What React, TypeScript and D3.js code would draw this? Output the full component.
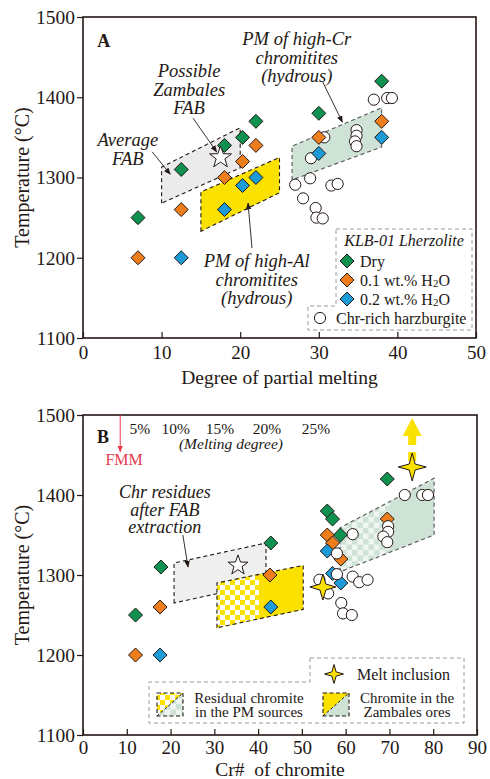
import React, { useEffect, useRef } from "react";
import * as d3 from "d3";

type Pt = [number, number];

// ---- Panel A: degree of partial melting (%) vs temperature (°C)
const dryA: Pt[] = [[7, 1250], [12.5, 1310], [18, 1340], [20.3, 1350], [22, 1370], [30, 1380], [38, 1420]];
const wet01A: Pt[] = [[7, 1200], [12.5, 1260], [18, 1300], [20.3, 1320], [22, 1340], [30, 1350], [38, 1370]];
const wet02A: Pt[] = [[12.5, 1200], [18, 1260], [20.3, 1290], [22, 1300], [30, 1330], [38, 1350]];
const harzA: Pt[] = [
  [37, 1397], [38.7, 1399], [39.3, 1399], [30.7, 1350], [34.8, 1359], [34.8, 1352], [34.6, 1345],
  [34.8, 1339], [29, 1324], [28.9, 1299], [27, 1291], [31.6, 1290], [32.4, 1292], [28, 1274],
  [29.6, 1262], [29.7, 1250], [30.5, 1249],
];
const fabStarA: Pt = [17.5, 1325];
const grayA: Pt[] = [[10, 1268], [10, 1313], [20, 1362], [20, 1312]];
const yellowA: Pt[] = [[15, 1233], [15, 1282], [25, 1325], [25, 1281]];
const greenA: Pt[] = [[26.6, 1297], [26.6, 1339], [38, 1387], [38, 1338]];

// ---- Panel B: Cr# of chromite vs temperature (°C)
const dryB: Pt[] = [[12, 1250], [17.8, 1310], [42.9, 1340], [69.5, 1420], [55.8, 1380], [57, 1370], [58.8, 1350]];
const wet01B: Pt[] = [[12, 1200], [17.6, 1260], [42.7, 1300], [69.5, 1370], [55.8, 1350], [57, 1340], [58.9, 1320]];
const wet02B: Pt[] = [[17.6, 1200], [42.9, 1260], [55.8, 1330], [57, 1302], [58.9, 1290]];
const harzB: Pt[] = [
  [73.5, 1400], [77.5, 1400], [78.8, 1400], [61.6, 1351], [69.7, 1361], [69.7, 1354], [68.6, 1348],
  [69.5, 1341], [58, 1327], [58, 1301], [54, 1294], [61.6, 1298], [63.1, 1291], [65, 1294],
  [56, 1277], [59, 1265], [59.4, 1252], [61.4, 1250],
];
const fabStarB: Pt = [35.4, 1312];
const meltInclB: Pt[] = [[75.2, 1435], [54.8, 1285]];
const grayB: Pt[] = [[20.8, 1265], [20.8, 1315], [41.8, 1340], [41.8, 1290]];
const yellowB: Pt[] = [[30.6, 1234], [30.6, 1290], [50.3, 1312], [50.3, 1257]];
const yellowSplitB = 40.2;
const greenB: Pt[] = [[58.7, 1304], [58.7, 1359], [80.2, 1421], [80.2, 1350]];
const greenSplitB = 70;
const meltPct = ["5%", "10%", "15%", "20%", "25%"];
const meltCr = [13, 21.2, 31.3, 42, 53.2];
const fmmCr = 8.5;

const tempTicks = [1100, 1200, 1300, 1400, 1500];
const meltTicks = [0, 10, 20, 30, 40, 50];
const crTicks = [0, 10, 20, 30, 40, 50, 60, 70, 80, 90];

const ink = "#231815";
const font = "'Liberation Serif', 'Times New Roman', serif";
const cGreen = "#0f9150";
const cOrange = "#ee7d1c";
const cBlue = "#1c9bd7";
const cYellow = "#fbe100";
const cGrayFill = "#ebebeb";
const cGreenFill = "#cfe2d6";

const diamond = "M0,-7L7,0L0,7L-7,0Z";

function starPath(n: number, outer: number, inner: number) {
  const pts = d3.range(n * 2).map(i => {
    const a = (Math.PI * i) / n - Math.PI / 2;
    const r = i % 2 === 0 ? outer : inner;
    return [r * Math.cos(a), r * Math.sin(a)];
  });
  return "M" + pts.map(p => p[0].toFixed(2) + "," + p[1].toFixed(2)).join("L") + "Z";
}

function App() {
  const ref = useRef<SVGSVGElement>(null);

  useEffect(() => {
    const svg = d3.select(ref.current);
    svg.selectAll("*").remove();

    const defs = svg.append("defs");
    const mk = defs.append("marker").attr("id", "arr").attr("viewBox", "0 0 10 10")
      .attr("refX", 9).attr("refY", 5).attr("markerWidth", 7).attr("markerHeight", 7)
      .attr("orient", "auto").attr("markerUnits", "userSpaceOnUse");
    mk.append("path").attr("d", "M0,1L10,5L0,9Z").attr("fill", ink);
    const mkR = defs.append("marker").attr("id", "arrR").attr("viewBox", "0 0 10 10")
      .attr("refX", 9).attr("refY", 5).attr("markerWidth", 7).attr("markerHeight", 7)
      .attr("orient", "auto").attr("markerUnits", "userSpaceOnUse");
    mkR.append("path").attr("d", "M0,1L10,5L0,9Z").attr("fill", "#e83a4e");

    const py = defs.append("pattern").attr("id", "chkY").attr("width", 10).attr("height", 10)
      .attr("patternUnits", "userSpaceOnUse");
    py.append("rect").attr("width", 10).attr("height", 10).attr("fill", "#fff");
    py.append("rect").attr("width", 5).attr("height", 5).attr("fill", cYellow);
    py.append("rect").attr("x", 5).attr("y", 5).attr("width", 5).attr("height", 5).attr("fill", cYellow);
    const pg = defs.append("pattern").attr("id", "chkG").attr("width", 11).attr("height", 11)
      .attr("patternUnits", "userSpaceOnUse");
    pg.append("rect").attr("width", 11).attr("height", 11).attr("fill", "#eff6f1");
    pg.append("rect").attr("width", 5.5).attr("height", 5.5).attr("fill", cGreenFill);
    pg.append("rect").attr("x", 5.5).attr("y", 5.5).attr("width", 5.5).attr("height", 5.5).attr("fill", cGreenFill);

    const g = svg.append("g").attr("font-family", font).attr("fill", ink);

    // multi-line text helper
    const lines = (parent: any, x: number, y: number, arr: string[], size: number, opts: any = {}) => {
      const t = parent.append("text").attr("x", x).attr("y", y).attr("font-size", size)
        .attr("text-anchor", opts.anchor || "middle").attr("fill", opts.fill || ink)
        .attr("font-style", opts.italic ? "italic" : "normal");
      arr.forEach((s, i) => t.append("tspan").attr("x", x).attr("dy", i === 0 ? 0 : opts.lh || 18.5).text(s));
      return t;
    };

    const drawPanel = (cfg: any) => {
      const { x, y } = cfg;
      const p = g.append("g");
      const [x0, x1] = x.range();
      const [y0, y1] = y.range();

      // y axis, ticks outward
      const ya = p.append("g").attr("transform", `translate(${x0},0)`)
        .call(d3.axisLeft(y).tickValues(tempTicks).tickFormat(d3.format("d")).tickSize(6).tickPadding(2).tickSizeOuter(0));
      ya.select(".domain").remove();
      ya.selectAll("line").attr("stroke", ink).attr("stroke-width", 1.2);
      ya.selectAll("text").attr("font-family", font).attr("font-size", 19.5).attr("fill", ink);

      // x axis, ticks inward
      const xa = p.append("g").attr("transform", `translate(0,${y0})`)
        .call(d3.axisBottom(x).tickValues(cfg.xTicks).tickFormat(d3.format("d")).tickSize(-6).tickPadding(cfg.pad).tickSizeOuter(0));
      xa.select(".domain").remove();
      xa.selectAll("line").attr("stroke", ink).attr("stroke-width", 1.2);
      xa.selectAll("text").attr("font-family", font).attr("font-size", 19).attr("fill", ink);

      p.append("rect").attr("x", x0).attr("y", y1).attr("width", x1 - x0).attr("height", y0 - y1)
        .attr("fill", "none").attr("stroke", ink).attr("stroke-width", 1.6);

      p.append("text").attr("transform", `translate(29,${(y0 + y1) / 2}) rotate(-90)`)
        .attr("text-anchor", "middle").attr("font-size", 20).attr("fill", ink).text("Temperature (°C)");
      p.append("text").attr("x", (x0 + x1) / 2).attr("y", cfg.xTitleY).attr("text-anchor", "middle")
        .attr("font-size", 19.5).attr("fill", ink).style("white-space", "pre").text(cfg.xTitle);
      return p;
    };

    const poly = (p: any, pts: Pt[], x: any, y: any, fill: string, stroke: string, clip?: string) => {
      const line = d3.line<Pt>().x(d => x(d[0])).y(d => y(d[1]));
      const el = p.append("path").attr("d", line(pts) + "Z").attr("fill", fill)
        .attr("stroke", stroke).attr("stroke-width", stroke === "none" ? 0 : 1.1)
        .attr("stroke-dasharray", "4,3");
      if (clip) el.attr("clip-path", `url(#${clip})`);
      return el;
    };

    const diamonds = (p: any, pts: Pt[], x: any, y: any, color: string) => {
      p.selectAll(null).data(pts).enter().append("path")
        .attr("d", diamond).attr("transform", (d: Pt) => `translate(${x(d[0])},${y(d[1])})`)
        .attr("fill", color).attr("stroke", ink).attr("stroke-width", 1);
    };
    const circles = (p: any, pts: Pt[], x: any, y: any) => {
      p.selectAll(null).data(pts).enter().append("circle")
        .attr("cx", (d: Pt) => x(d[0])).attr("cy", (d: Pt) => y(d[1])).attr("r", 5.6)
        .attr("fill", "#fff").attr("stroke", ink).attr("stroke-width", 1);
    };
    const arrow = (p: any, a: Pt, b: Pt, x: any, y: any) => {
      p.append("line").attr("x1", x(a[0])).attr("y1", y(a[1])).attr("x2", x(b[0])).attr("y2", y(b[1]))
        .attr("stroke", ink).attr("stroke-width", 0.9).attr("marker-end", "url(#arr)");
    };

    // ================= Panel A =================
    const xA = d3.scaleLinear().domain([0, 50]).range([83, 476]);
    const yA = d3.scaleLinear().domain([1100, 1500]).range([338, 17]);
    const pA = drawPanel({ x: xA, y: yA, xTicks: meltTicks, pad: 8, xTitle: "Degree of partial melting", xTitleY: 384 });

    poly(pA, grayA, xA, yA, cGrayFill, ink);
    poly(pA, greenA, xA, yA, cGreenFill, "#555");
    poly(pA, yellowA, xA, yA, cYellow, ink);

    circles(pA, harzA, xA, yA);
    diamonds(pA, dryA, xA, yA, cGreen);
    diamonds(pA, wet01A, xA, yA, cOrange);
    diamonds(pA, wet02A, xA, yA, cBlue);

    pA.append("path").attr("d", starPath(5, 11.5, 4.6))
      .attr("transform", `translate(${xA(fabStarA[0])},${yA(fabStarA[1])})`)
      .attr("fill", "#fff").attr("stroke", ink).attr("stroke-width", 1);

    pA.append("text").attr("x", xA(1.8)).attr("y", yA(1462.6)).attr("font-size", 18)
      .attr("font-weight", "bold").attr("fill", ink).text("A");
    lines(pA, xA(27.2), yA(1465), ["PM of high-Cr", "chromitites", "(hydrous)"], 18.5, { italic: true });
    lines(pA, xA(13.5), yA(1425.2), ["Possible", "Zambales", "FAB"], 18.5, { italic: true });
    lines(pA, xA(5.7), yA(1339.2), ["Average", "FAB"], 18.5, { italic: true, lh: 19 });
    lines(pA, xA(22.1), yA(1188.3), ["PM of high-Al", "chromitites", "(hydrous)"], 18.5, { italic: true });
    arrow(pA, [30.5, 1419], [33, 1369], xA, yA);
    arrow(pA, [14, 1374], [17, 1332], xA, yA);
    arrow(pA, [8.8, 1332], [11.1, 1304], xA, yA);
    arrow(pA, [21.5, 1212], [21, 1268], xA, yA);

    // legend A
    const lA = pA.append("g");
    lA.append("path").attr("d", "M336,229H472V330H308V306H336Z").attr("fill", "none")
      .attr("stroke", "#9a9a9a").attr("stroke-width", 1).attr("stroke-dasharray", "4,3");
    lA.append("text").attr("x", 404).attr("y", 246).attr("text-anchor", "middle").attr("font-size", 16)
      .attr("font-style", "italic").attr("fill", ink).text("KLB-01 Lherzolite");
    const legItems = [
      { c: cGreen, t: "Dry", y: 261 },
      { c: cOrange, t: "0.1 wt.% H", y: 280 },
      { c: cBlue, t: "0.2 wt.% H", y: 299 },
    ];
    legItems.forEach((it, i) => {
      lA.append("path").attr("d", diamond).attr("transform", `translate(347,${it.y})`)
        .attr("fill", it.c).attr("stroke", ink).attr("stroke-width", 1);
      const t = lA.append("text").attr("x", 360).attr("y", it.y + 5.5).attr("font-size", 16).attr("fill", ink).text(it.t);
      if (i > 0) {
        t.append("tspan").attr("font-size", 11).attr("dy", 1.5).text("2");
        t.append("tspan").attr("dy", -1.5).text("O");
      }
    });
    lA.append("circle").attr("cx", 320).attr("cy", 318).attr("r", 5.6).attr("fill", "#fff")
      .attr("stroke", ink).attr("stroke-width", 1);
    lA.append("text").attr("x", 336).attr("y", 323.5).attr("font-size", 16).attr("fill", ink).text("Chr-rich harzburgite");

    // ================= Panel B =================
    const xB = d3.scaleLinear().domain([0, 90]).range([83, 477]);
    const yB = d3.scaleLinear().domain([1100, 1500]).range([735, 415]);
    const pB = drawPanel({ x: xB, y: yB, xTicks: crTicks, pad: 6, xTitle: "Cr#  of chromite", xTitleY: 776 });

    defs.append("clipPath").attr("id", "clipYB").append("rect")
      .attr("x", xB(yellowB[0][0]) - 2).attr("y", 0).attr("width", xB(yellowSplitB) - xB(yellowB[0][0]) + 2).attr("height", 779);
    defs.append("clipPath").attr("id", "clipGB").append("rect")
      .attr("x", xB(greenB[0][0]) - 2).attr("y", 0).attr("width", xB(greenSplitB) - xB(greenB[0][0]) + 2).attr("height", 779);

    poly(pB, grayB, xB, yB, "#efefef", ink);
    poly(pB, yellowB, xB, yB, cYellow, "none");
    poly(pB, yellowB, xB, yB, "url(#chkY)", "none", "clipYB");
    poly(pB, yellowB, xB, yB, "none", ink);
    poly(pB, greenB, xB, yB, cGreenFill, "none");
    poly(pB, greenB, xB, yB, "url(#chkG)", "none", "clipGB");
    poly(pB, greenB, xB, yB, "none", "#555");

    diamonds(pB, dryB, xB, yB, cGreen);
    diamonds(pB, wet01B, xB, yB, cOrange);
    diamonds(pB, wet02B, xB, yB, cBlue);
    circles(pB, harzB, xB, yB);

    pB.append("path").attr("d", starPath(5, 10.5, 4.2))
      .attr("transform", `translate(${xB(fabStarB[0])},${yB(fabStarB[1])})`)
      .attr("fill", "#fff").attr("stroke", ink).attr("stroke-width", 1);

    // yellow up-arrow above the high-temperature melt inclusion
    const mx = xB(meltInclB[0][0]);
    const my = yB(meltInclB[0][1]);
    pB.append("rect").attr("x", mx - 4).attr("y", my - 15).attr("width", 8).attr("height", 9).attr("fill", cYellow);
    pB.append("rect").attr("x", mx - 4).attr("y", my - 32).attr("width", 8).attr("height", 10).attr("fill", cYellow);
    pB.append("path").attr("d", `M${mx},${my - 49}L${mx + 9.5},${my - 31}L${mx - 9.5},${my - 31}Z`).attr("fill", cYellow);

    pB.selectAll(null).data(meltInclB).enter().append("path")
      .attr("d", (d: Pt, i: number) => starPath(4, i === 0 ? 14 : 13, 4.2))
      .attr("transform", (d: Pt) => `translate(${xB(d[0])},${yB(d[1])})`)
      .attr("fill", cYellow).attr("stroke", ink).attr("stroke-width", 1);

    pB.append("text").attr("x", xB(3.2)).attr("y", yB(1465)).attr("font-size", 18)
      .attr("font-weight", "bold").attr("fill", ink).text("B");
    pB.selectAll(null).data(meltPct).enter().append("text")
      .attr("x", (d: string, i: number) => xB(meltCr[i])).attr("y", yB(1476)).attr("text-anchor", "middle")
      .attr("font-size", 15.5).attr("fill", ink).text((d: string) => d);
    pB.append("text").attr("x", xB(33.8)).attr("y", yB(1457.5)).attr("text-anchor", "middle")
      .attr("font-size", 15.5).attr("font-style", "italic").attr("fill", ink).text("(Melting degree)");
    pB.append("line").attr("x1", xB(fmmCr)).attr("y1", yB(1500)).attr("x2", xB(fmmCr)).attr("y2", yB(1454))
      .attr("stroke", "#e83a4e").attr("stroke-width", 1).attr("marker-end", "url(#arrR)");
    pB.append("text").attr("x", xB(9.4)).attr("y", yB(1437.5)).attr("text-anchor", "middle")
      .attr("font-size", 16).attr("fill", "#e83a4e").text("FMM");
    lines(pB, xB(18.7), yB(1396), ["Chr residues", "after FAB", "extraction"], 18, { italic: true, lh: 17.5 });
    arrow(pB, [22.8, 1350], [24, 1310], xB, yB);

    // legend B
    const lB = pB.append("g");
    lB.append("path").attr("d", "M310,658H464V723H149V682H310Z").attr("fill", "#fff")
      .attr("stroke", "#9a9a9a").attr("stroke-width", 1).attr("stroke-dasharray", "4,3");
    lB.append("path").attr("d", starPath(4, 9.5, 3)).attr("transform", "translate(334,674)")
      .attr("fill", cYellow).attr("stroke", ink).attr("stroke-width", 1);
    lB.append("text").attr("x", 357).attr("y", 679.5).attr("font-size", 16).attr("fill", ink).text("Melt inclusion");

    const legSym = (x0: number, up: string, low: string) => {
      const w = 26, h = 23, y0 = 693;
      lB.append("path").attr("d", `M${x0},${y0}H${x0 + w}L${x0},${y0 + h}Z`).attr("fill", up);
      lB.append("path").attr("d", `M${x0 + w},${y0}V${y0 + h}H${x0}Z`).attr("fill", low);
      lB.append("rect").attr("x", x0).attr("y", y0).attr("width", w).attr("height", h).attr("fill", "none")
        .attr("stroke", ink).attr("stroke-width", 1.1).attr("stroke-dasharray", "4,2.5");
      lB.append("line").attr("x1", x0).attr("y1", y0 + h).attr("x2", x0 + w).attr("y2", y0)
        .attr("stroke", ink).attr("stroke-width", 1).attr("stroke-dasharray", "3,2");
    };
    legSym(157, "url(#chkY)", "url(#chkG)");
    legSym(323, cYellow, cGreenFill);
    lines(lB, 249, 703, ["Residual chromite", "in the PM sources"], 15, { lh: 14 });
    lines(lB, 407, 703, ["Chromite in the", "Zambales ores"], 15, { lh: 14 });
  }, []);

  return (
    <div style={{ position: "absolute", left: 0, top: 0 }}>
      <svg ref={ref} width={490} height={779} style={{ display: "block", background: "#fff" }} />
    </div>
  );
}

export default App;
